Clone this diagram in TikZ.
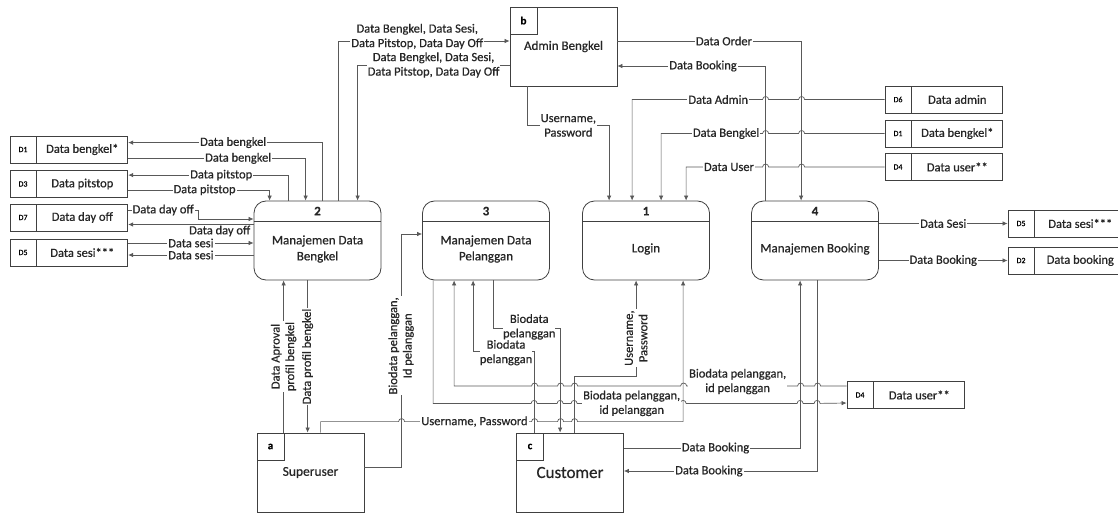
\documentclass[tikz,border=0pt]{standalone}
\usepackage{fontspec}
\setmainfont{Carlito}[FakeBold=0.6]
\usetikzlibrary{calc,positioning,arrows.meta}

\newcommand{\hopr}{arc[start angle=180,end angle=360,radius=3]}
\newcommand{\hopl}{arc[start angle=0,end angle=-180,radius=3]}

\begin{document}
\begin{tikzpicture}[x=1pt,y=-1pt,
    proc/.style={draw=black!75, line width=0.8pt, rounded corners=12pt, minimum width=127pt, minimum height=79pt, inner sep=0pt},
    ent/.style={draw=black!75, line width=0.8pt, minimum width=107pt, minimum height=79pt, inner sep=0pt, text=black!85},
    tagbox/.style={draw=black!75, line width=0.8pt, minimum size=27pt, inner sep=0pt, font=\fontsize{11}{13}\selectfont\bfseries},
    sid/.style={draw=black!75, line width=0.8pt, minimum width=26pt, minimum height=27pt, inner sep=0pt, font=\fontsize{8}{10}\selectfont},
    sname/.style={draw=black!75, line width=0.8pt, minimum width=91pt, minimum height=27pt, inner sep=0pt, text=black!85, font=\fontsize{12.5}{15}\selectfont},
    flow/.style={draw=black!65, line width=0.7pt, -{Latex[length=5pt,width=4.5pt]}},
    lbl/.style={fill=white, inner sep=1pt, align=center, text=black!85, font=\fontsize{12.5}{14.5}\selectfont},
    vlbl/.style={lbl, rotate=90}]
    \useasboundingbox (0,0) rectangle (1118,513);

    \foreach \id/\cx/\txt in {2/317.5/{Manajemen Data\\Bengkel}, 3/486/{Manajemen Data\\Pelanggan}, 1/646/Login, 4/815/Manajemen Booking}{
      \node[proc] (p\id) at (\cx,240.5) {};
      \draw[black!75, line width=0.8pt] ($(p\id.north west)+(0,21)$) -- ($(p\id.north east)+(0,21)$);
      \node[font=\fontsize{13}{15}\selectfont\bfseries, text=black!85] at ($(p\id.north)+(0,10.5)$) {\id};
      \node[align=center, text=black!85, font=\fontsize{13}{16}\selectfont] at ($(p\id.center)+(0,8.5)$) {\txt};
    }

    \foreach \id/\tg/\cx/\cy/\fs/\txt in {adm/b/563.5/46.5/13/Admin Bengkel, sup/a/310.5/472.5/13.5/Superuser, cus/c/570/472.5/17/Customer}{
      \node[ent, font=\fontsize{\fs}{18}\selectfont] (\id) at (\cx,\cy) {\txt};
      \node[tagbox, anchor=north west] at (\id.north west) {\tg};
    }

    \foreach \id/\cx/\cy/\sn/\txt in {s1/23/149.5/D1/Data bengkel*, s3/23/184/D3/Data pitstop, s7/23/217.5/D7/Data day off, s5/23/252.5/D5/Data sesi***, r6/898/99.5/D6/Data admin, r1/898/133.5/D1/Data bengkel*, r4/898/167/D4/Data user**, r5/1021/223.5/D5/Data sesi***, r2/1021/260.5/D2/Data booking, b4/860/395/D4/Data user**}{
      \node[sid] (id\id) at (\cx,\cy) {\sn};
      \node[sname, right=0pt of id\id] (\id) {\txt};
    }

    \draw[flow] ($(p2.north west)+(69,0)$) |- node[lbl,pos=0.73]{Data bengkel} ($(s1.north east)+(0,7)$);
    \draw[flow] ($(s1.south east)+(0,-5)$) -| node[lbl,pos=0.31]{Data bengkel} ($(p2.north west)+(52,0)$);
    \draw[flow] ($(p2.north west)+(35,0)$) |- node[lbl,pos=0.71]{Data pitstop} ($(s3.north east)+(0,5)$);
    \draw[flow] ($(s3.south east)+(0,-8)$) -| node[lbl,pos=0.27]{Data pitstop} ($(p2.north west)+(16,0)$);
    \draw[flow] ($(s7.east)+(0,-7.5)$) -- node[lbl]{Data day off} ++(70,0) |- ($(p2.west)+(0,-21.5)$);
    \draw[flow] ($(p2.west)+(0,-16)$) -- node[lbl,fill=none,pos=0.27,yshift=-6.5pt]{Data day off} ($(s7.east)+(0,7)$);
    \draw[flow] ($(s5.east)+(0,-9.5)$) -- node[lbl]{Data sesi} ($(p2.west)+(0,2.5)$);
    \draw[flow] ($(p2.west)+(0,14.5)$) -- node[lbl]{Data sesi} ($(s5.east)+(0,2.5)$);

    \draw[flow] ($(p2.north west)+(85,0)$) |- node[lbl,pos=0.73,yshift=4.5pt]{Data Bengkel, Data Sesi,\\Data Pitstop, Data Day Off} ($(adm.west)+(0,-5.5)$);
    \draw[flow] ($(adm.west)+(0,18.5)$) -| node[lbl,pos=0.25]{Data Bengkel, Data Sesi,\\Data Pitstop, Data Day Off} ($(p2.north west)+(104,0)$);
    \draw[flow] ($(adm.south west)+(18,0)$) -- ++(0,39) -| node[lbl,pos=0.25]{Username,\\Password} ($(p1.north west)+(27,0)$);
    \draw[flow] ($(p4.north west)+(14,0)$) |- node[lbl,pos=0.71]{Data Booking} ($(adm.east)+(0,19.5)$);
    \draw[flow] ($(adm.east)+(0,-5.5)$) -| node[lbl,pos=0.29]{Data Order} ($(p4.north west)+(50,0)$);

    \draw[flow] (idr6.west) -- ++(-80,0) \hopl -- ++(-30,0) \hopl -| node[lbl,pos=0.17]{Data Admin} ($(p1.north west)+(50,0)$);
    \draw[flow] (idr1.west) -- ++(-80,0) \hopl -- ++(-30,0) \hopl -| node[lbl,pos=0.18]{Data Bengkel} ($(p1.north west)+(79,0)$);
    \draw[flow] (idr4.west) -- ++(-80,0) \hopl -- ++(-30,0) \hopl -| node[lbl,pos=0.22]{Data User} ($(p1.north west)+(104,0)$);
    \draw[flow] ($(p4.east)+(0,-17)$) -- node[lbl]{Data Sesi} (idr5.west);
    \draw[flow] ($(p4.east)+(0,20)$) -- node[lbl]{Data Booking} (idr2.west);

    \draw[flow] ($(sup.north west)+(27,0)$) -- node[vlbl]{Data Aproval\\profil bengkel} ($(p2.south west)+(30,0)$);
    \draw[flow] ($(p2.south west)+(54,0)$) -- node[vlbl]{Data profil bengkel} ($(sup.north west)+(51,0)$);
    \draw[flow] ($(sup.east)+(0,-5.5)$) -| node[vlbl,pos=0.76]{Biodata pelanggan,\\Id pelanggan} ($(p3.west)+(-21,-6.5)$) -- ($(p3.west)+(0,-6.5)$);
    \draw[flow] ($(sup.north west)+(64,0)$) -- ++(0,-11) -- ++(78,0) \hopr -- node[lbl,pos=0.55]{Username, Password} ++(127,0) \hopr -- ++(20,0) \hopr -- ++(8,0) \hopr -| ($(p1.south west)+(101,0)$);

    \draw[flow] ($(cus.north west)+(18,0)$) -- ++(0,-81) -| node[lbl,inner sep=0pt,pos=0.23,yshift=-1pt]{Biodata\\pelanggan} ($(p3.south west)+(51,0)$);
    \draw[flow] ($(p3.south west)+(71,0)$) -- ++(0,48) -| node[lbl,inner sep=0pt,pos=0.27,yshift=1.5pt]{Biodata\\pelanggan} ($(cus.north west)+(44,0)$);
    \draw[flow] ($(cus.north west)+(58,0)$) -- ++(0,-56) -| node[vlbl,pos=0.7]{Username,\\Password} ($(p1.south west)+(54,0)$);
    \draw[flow] ($(p3.south west)+(11,0)$) -- ++(0,123) -- ++(98,0) \hopr -- ++(20,0) \hopr -- ++(8,0) \hopr -- node[lbl,pos=0.53]{Biodata pelanggan,\\id pelanggan} ++(103,0) \hopr -- ++(111,0) \hopr -- ++(11,0) \hopr -- ($(idb4.west)+(0,8)$);
    \draw[flow] ($(idb4.west)+(0,-9)$) -- ++(-26,0) \hopl -- ++(-11,0) \hopl -- node[lbl,pos=0.54,yshift=4.5pt]{Biodata pelanggan,\\id pelanggan} ++(-111,0) \hopl -- ++(-103,0) \hopl -- ++(-8,0) \hopl -- ++(-20,0) \hopl -| ($(p3.south west)+(32,0)$);
    \draw[flow] ($(cus.east)+(0,-24.5)$) -| node[lbl,pos=0.26]{Data Booking} ($(p4.south west)+(49,0)$);
    \draw[flow] ($(p4.south west)+(66,0)$) |- node[lbl,pos=0.78]{Data Booking} ($(cus.east)+(0,-1.5)$);
  \end{tikzpicture}
\end{document}
